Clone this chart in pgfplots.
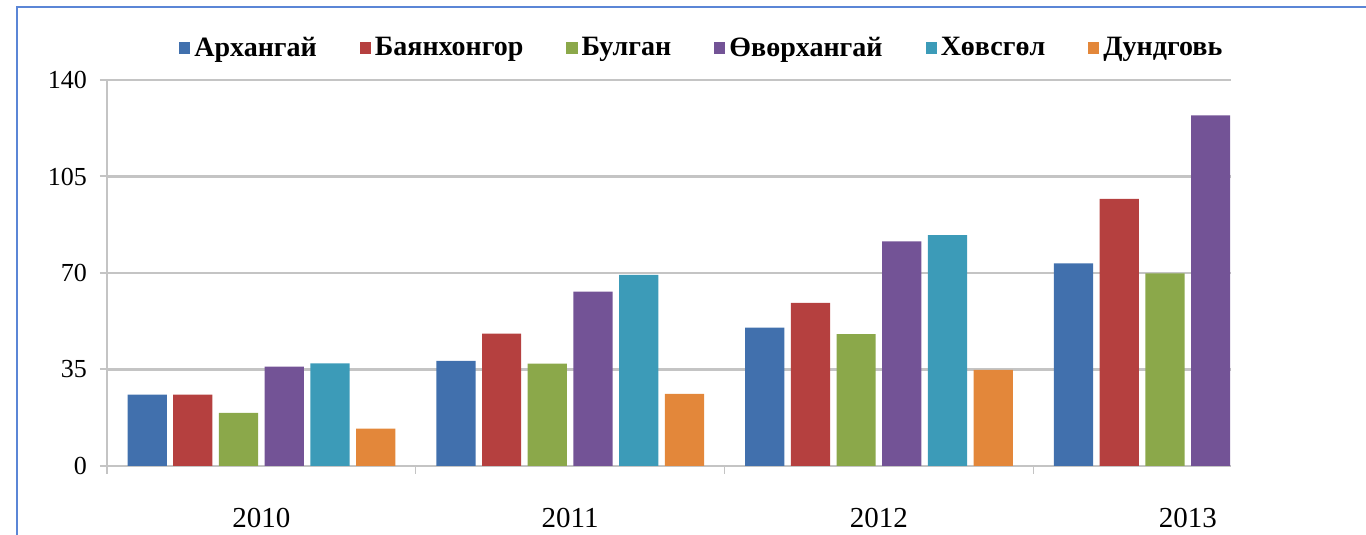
\documentclass[border=0pt]{standalone}
\usepackage{fontspec}
\setmainfont{Liberation Serif}
\usepackage{pgfplots}
\pgfplotsset{compat=1.18}

\definecolor{cArh}{HTML}{4170AD}
\definecolor{cBay}{HTML}{B5403F}
\definecolor{cBul}{HTML}{8BA84A}
\definecolor{cOvr}{HTML}{735396}
\definecolor{cHov}{HTML}{3C9BB8}
\definecolor{cDun}{HTML}{E3873A}
\definecolor{gridc}{HTML}{C4C4C4}
\definecolor{framec}{HTML}{5B86D6}

\begin{document}
\begin{tikzpicture}
\path[use as bounding box] (-53.5pt,-34.5pt) rectangle (629.5pt,233pt);
\draw[framec, line width=0.8pt] (-45pt,-40pt) -- (-45pt,229.6pt) -- (640pt,229.6pt);
\begin{axis}[
    scale only axis,
    width=562pt, height=193pt,
    ybar,
    bar width=0.127,
    xmin=-0.5, xmax=3.14,
    ymin=0, ymax=140,
    ytick={0,35,70,105,140},
    xtick={0,1,2,3},
    xticklabels={2010,2011,2012,2013},
    minor xtick={-0.5,0.5,1.5,2.5},
    axis x line*=bottom,
    axis y line*=left,
    axis line style={gridc, line width=1pt},
    ymajorgrids=true,
    grid style={gridc, line width=1.2pt},
    major x tick style={draw=none},
    minor x tick style={gridc, line width=0.6pt},
    major y tick style={gridc, line width=1pt},
    tick align=outside,
    major tick length=3.5pt,
    minor tick length=4pt,
    /pgf/number format/assume math mode=true,
    yticklabel style={font=\fontsize{13}{15}\selectfont, xshift=-3pt},
    xticklabel style={font=\fontsize{14.5}{16}\selectfont, yshift=-14pt},
    legend style={at={(0.53,1.083)}, anchor=center, draw=none, fill=none,
      font=\bfseries\fontsize{14}{16}\selectfont,
      legend columns=-1,
      /tikz/every even column/.append style={column sep=19.5pt}},
    legend image code/.code={\fill[#1] (0pt,-2.8pt) rectangle (5.6pt,2.8pt);},
    every axis plot/.append style={draw=none},
]
\addplot[fill=cArh, bar shift=-0.370] coordinates {(0,25.9) (1,38.1) (2,50.2) (3,73.5)};
\addlegendentry{Архангай}
\addplot[fill=cBay, bar shift=-0.222] coordinates {(0,25.9) (1,48.0) (2,59.2) (3,96.9)};
\addlegendentry{Баянхонгор}
\addplot[fill=cBul, bar shift=-0.074] coordinates {(0,19.3) (1,37.1) (2,47.8) (3,69.9)};
\addlegendentry{Булган}
\addplot[fill=cOvr, bar shift=0.074] coordinates {(0,36.0) (1,63.2) (2,81.5) (3,127.2)};
\addlegendentry{Өвөрхангай}
\addplot[fill=cHov, bar shift=0.222] coordinates {(0,37.2) (1,69.3) (2,83.7)};
\addlegendentry{Хөвсгөл}
\addplot[fill=cDun, bar shift=0.370] coordinates {(0,13.6) (1,26.2) (2,34.9)};
\addlegendentry{Дундговь}
\end{axis}
\end{tikzpicture}
\end{document}
